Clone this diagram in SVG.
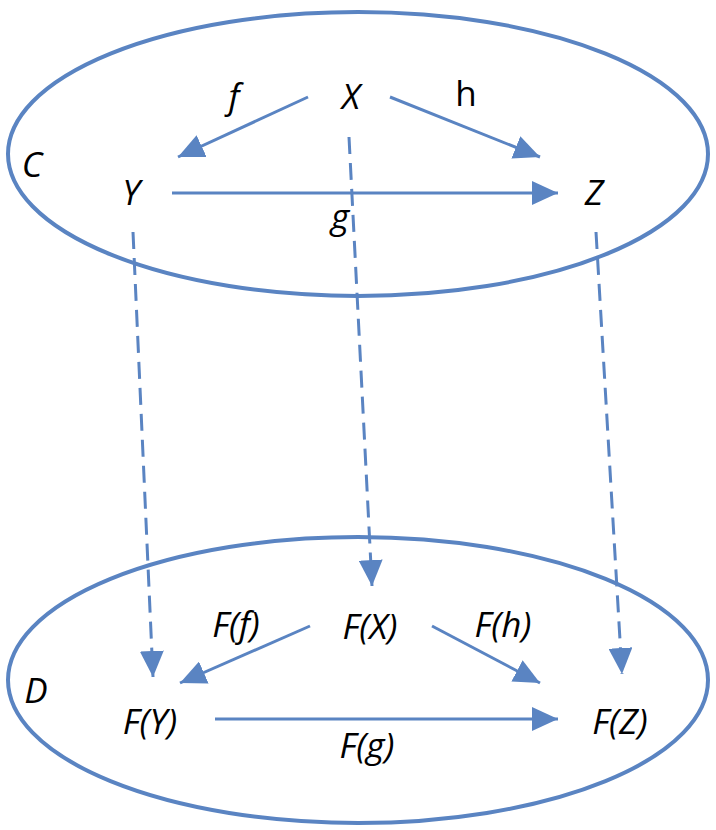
<svg xmlns="http://www.w3.org/2000/svg" width="716" height="830" viewBox="0 0 716 830">
<style>
.t{font-family:"Open Sans","Liberation Sans",Arial,sans-serif;font-size:35px;font-style:italic;fill:#000;text-anchor:middle}
.u{font-style:normal}
.e{fill:none;stroke:#5a84c2;stroke-width:4}
.a{fill:none;stroke:#5a84c2;stroke-width:3}
.d{stroke-dasharray:17 9}
</style>
<defs>
<marker id="ah" markerUnits="userSpaceOnUse" markerWidth="28" markerHeight="24" refX="26" refY="12" orient="auto">
<path d="M0,0 L26,12 L0,24 Z" fill="#5a84c2"/>
</marker>
</defs>
<g id="C-category">
<ellipse class="e" cx="358" cy="154" rx="350" ry="142"/>
<text class="t" x="32" y="177">C</text>
</g>
<g id="D-category">
<ellipse class="e" cx="358" cy="680" rx="350" ry="143"/>
<text class="t" x="36" y="703">D</text>
</g>
<g id="X"><text class="t" x="351" y="109">X</text></g>
<g id="Y"><text class="t" x="131" y="205">Y</text></g>
<g id="Z"><text class="t" x="594" y="205">Z</text></g>
<g id="FX"><text class="t" x="370" y="639">F(X)</text></g>
<g id="FY"><text class="t" x="150" y="734">F(Y)</text></g>
<g id="FZ"><text class="t" x="620" y="734">F(Z)</text></g>
<g id="connectors">
<line class="a" x1="308" y1="97" x2="178" y2="157" marker-end="url(#ah)"/>
<line class="a" x1="390" y1="97" x2="540" y2="157" marker-end="url(#ah)"/>
<line class="a" x1="172" y1="193" x2="558" y2="193" marker-end="url(#ah)"/>
<line class="a d" x1="349" y1="137" x2="372" y2="586" marker-end="url(#ah)"/>
<line class="a d" x1="133" y1="232" x2="153" y2="677" marker-end="url(#ah)"/>
<line class="a d" x1="596" y1="232" x2="622" y2="674" marker-end="url(#ah)"/>
<line class="a" x1="310" y1="626" x2="180" y2="683" marker-end="url(#ah)"/>
<line class="a" x1="432" y1="626" x2="540" y2="683" marker-end="url(#ah)"/>
<line class="a" x1="215" y1="719" x2="558" y2="719" marker-end="url(#ah)"/>
<text class="t" x="234" y="109">f</text>
<text class="t u" x="466" y="106">h</text>
<text class="t" x="340" y="229">g</text>
<text class="t" x="236" y="637">F(f)</text>
<text class="t" x="503" y="637">F(h)</text>
<text class="t" x="367" y="758">F(g)</text>
</g>
</svg>
